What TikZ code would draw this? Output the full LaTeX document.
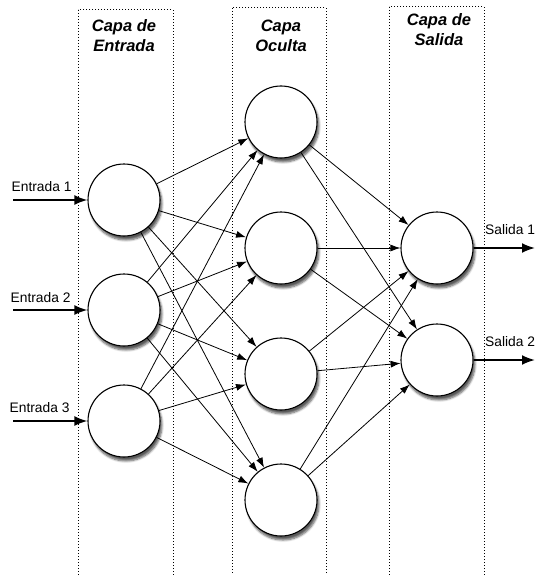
\documentclass[tikz,border=0pt]{standalone}
\usepackage{fontspec}
\setmainfont{Liberation Sans}
\usetikzlibrary{arrows.meta,shadows.blur}
\tikzset{
  neurona/.style={circle, draw, line width=1.1pt, fill=white, minimum size=72pt, inner sep=0pt,
    blur shadow={shadow xshift=2pt, shadow yshift=-4pt, shadow blur steps=6, shadow opacity=65}},
  conexion/.style={-{Latex[length=10pt,width=7pt]}, line width=0.8pt},
  flechaio/.style={-{Latex[length=13pt,width=10pt]}, line width=2pt},
  capa/.style={dotted, line width=1pt},
  titulo/.style={font=\fontsize{16.5}{20}\selectfont\bfseries\itshape, align=center},
  etiqueta/.style={font=\fontsize{13.8}{16}\selectfont}
}
\begin{document}
\begin{tikzpicture}[x=1pt,y=-1pt]
    \useasboundingbox (0,0) rectangle (535,575);

    % Capas
    \draw[capa] (78,10) rectangle (173,590);
    \draw[capa] (232,8) rectangle (326,590);
    \draw[capa] (389,7) rectangle (484,590);

    % Titulos
    \node[titulo] (tent) at (124,36) {Capa de\\Entrada};
    \node[titulo] (toc) at (281,36) {Capa\\Oculta};
    \node[titulo] (tsal) at (439,30) {Capa de\\Salida};

    % Neuronas
    \node[neurona] (e1) at (124,200) {};
    \node[neurona] (e2) at (124,310) {};
    \node[neurona] (e3) at (124,421) {};

    \node[neurona] (o1) at (281,122) {};
    \node[neurona] (o2) at (281,248) {};
    \node[neurona] (o3) at (281,374) {};
    \node[neurona] (o4) at (281,500) {};

    \node[neurona] (s1) at (437,248) {};
    \node[neurona] (s2) at (437,360) {};

    % Conexiones
    \foreach \i in {1,2,3}
        \foreach \j in {1,...,4}
            \draw[conexion] (e\i) -- (o\j);
    \foreach \j in {1,...,4}
        \foreach \k in {1,2}
            \draw[conexion] (o\j) -- (s\k);

    % Entradas
    \coordinate (in1) at (13,200);
    \coordinate (in2) at (13,310);
    \coordinate (in3) at (13,421);
    \draw[flechaio] (in1) -- (e1);
    \draw[flechaio] (in2) -- (e2);
    \draw[flechaio] (in3) -- (e3);
    \node[etiqueta, anchor=base east] (le1) at (75,191) {Entrada 1};
    \node[etiqueta, anchor=base east] (le2) at (74,302) {Entrada 2};
    \node[etiqueta, anchor=base east] (le3) at (73,412) {Entrada 3};

    % Salidas
    \coordinate (out1) at (535,248);
    \coordinate (out2) at (535,360);
    \draw[flechaio] (s1) -- (out1);
    \draw[flechaio] (s2) -- (out2);
    \node[etiqueta, anchor=base west, inner xsep=0pt] (ls1) at (485,234) {Salida 1};
    \node[etiqueta, anchor=base west, inner xsep=0pt] (ls2) at (485,346) {Salida 2};
\end{tikzpicture}
\end{document}
